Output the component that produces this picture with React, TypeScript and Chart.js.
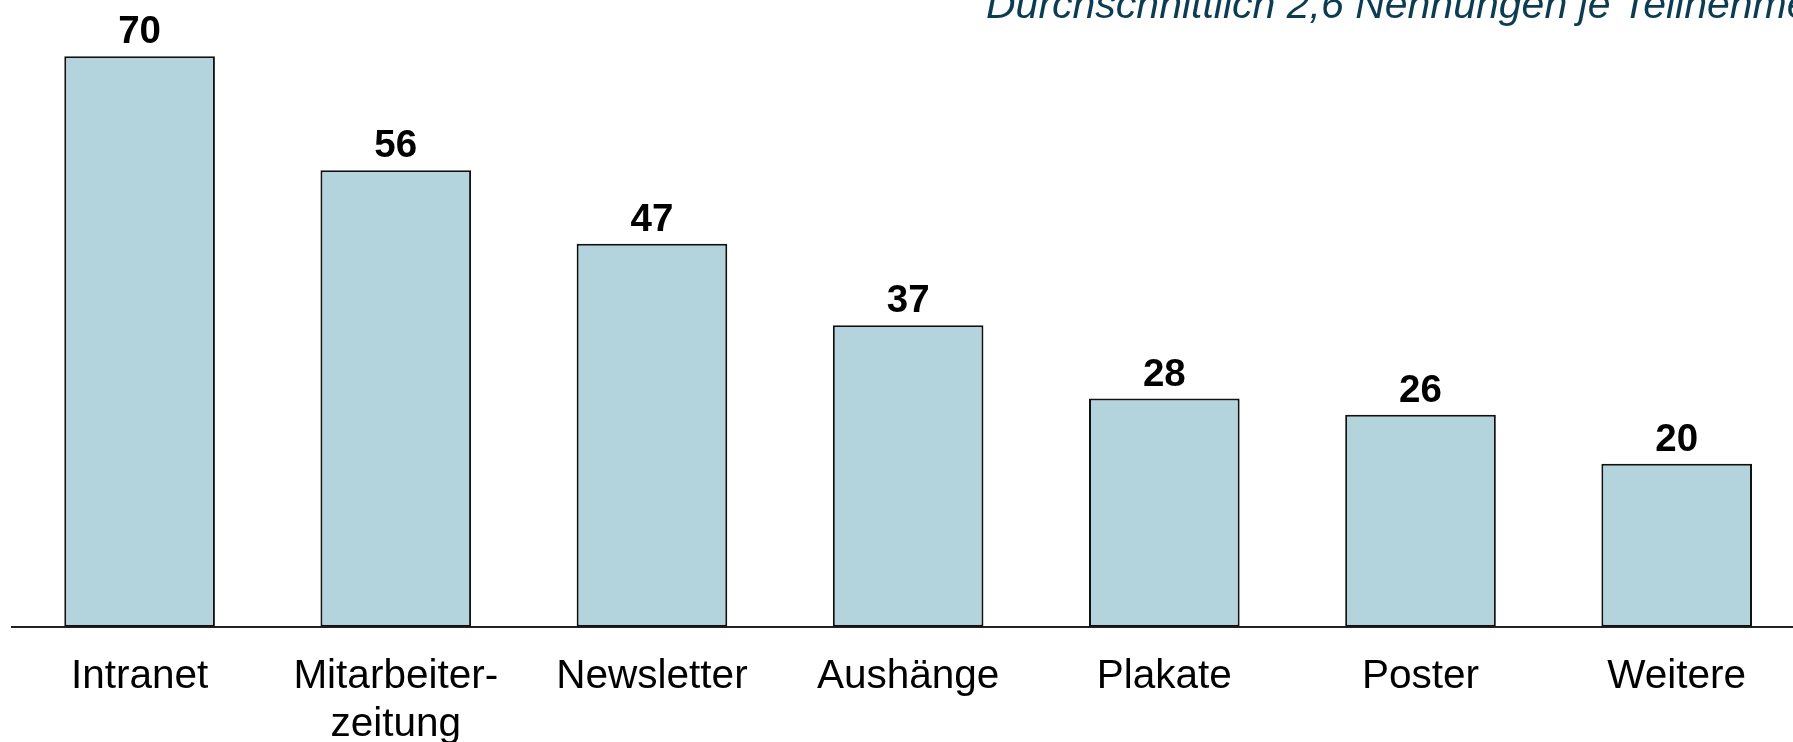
import React, { useEffect, useRef } from "react";
import { Chart, registerables } from "chart.js";

Chart.register(...registerables);

const categories: string[] = ["Intranet", "Mitarbeiter-\nzeitung", "Newsletter", "Aushänge", "Plakate", "Poster", "Weitere"];
const values: number[] = [70, 56, 47, 37, 28, 26, 20];
const subtitle = "Durchschnittlich 2,6 Nennungen je Teilnehmer";

const FONT = '"Liberation Sans", Arial, Helvetica, sans-serif';

export default function App() {
  const ref = useRef<HTMLCanvasElement | null>(null);

  useEffect(() => {
    document.body.style.margin = "0";
    const canvas = ref.current;
    if (!canvas) return;

    const labelPlugin = {
      id: "valueLabels",
      afterDatasetsDraw(chart: any) {
        const { ctx } = chart;
        const meta = chart.getDatasetMeta(0);
        ctx.save();
        ctx.font = `bold 38.5px ${FONT}`;
        ctx.fillStyle = "#000";
        ctx.textAlign = "center";
        ctx.textBaseline = "alphabetic";
        meta.data.forEach((bar: any, i: number) => {
          ctx.fillText(String(values[i]), bar.x, bar.y - 13);
        });
        ctx.restore();
      },
      afterDraw(chart: any) {
        const { ctx } = chart;
        ctx.save();
        ctx.font = `italic 41px ${FONT}`;
        ctx.fillStyle = "#0b3c52";
        ctx.textAlign = "left";
        ctx.textBaseline = "alphabetic";
        ctx.fillText(subtitle, 986, 18);
        ctx.restore();
      },
    };

    const chart = new Chart(canvas, {
      type: "bar",
      data: {
        datasets: [
          {
            data: values.map((v, i) => ({ x: i, y: v })),
            backgroundColor: "#b3d3dd",
            borderColor: "#111",
            borderWidth: 2,
            borderSkipped: false,
            categoryPercentage: 1,
            barPercentage: 0.588,
          },
        ],
      },
      options: {
        responsive: false,
        animation: false,
        layout: { padding: { left: 11.5, right: 0, top: 0, bottom: 0 } },
        plugins: { legend: { display: false }, tooltip: { enabled: false }, title: { display: false } },
        scales: {
          x: {
            type: "linear",
            min: -0.5,
            max: 6.454,
            offset: false,
            grid: { display: false, offset: false },
            border: { display: true, color: "#222", width: 2 },
            afterBuildTicks: (scale: any) => {
              scale.ticks = categories.map((_, i) => ({ value: i }));
            },
            afterFit: (scale: any) => {
              scale.height = 742 - 626.7;
            },
            ticks: {
              autoSkip: false,
              maxRotation: 0,
              minRotation: 0,
              padding: 18,
              color: "#000",
              font: { family: FONT, size: 40.5, lineHeight: 1.19 },
              callback: (value: any) => {
                const c = categories[Math.round(Number(value))];
                return c ? c.split("\n") : "";
              },
            },
          },
          y: {
            display: false,
            min: 0,
            max: 76.9,
          },
        },
      },
      plugins: [labelPlugin],
    } as any);

    return () => chart.destroy();
  }, []);

  return (
    <div style={{ width: 1793, height: 742, position: "relative" }}>
      <canvas ref={ref} width={1793} height={742} style={{ display: "block" }} />
    </div>
  );
}
